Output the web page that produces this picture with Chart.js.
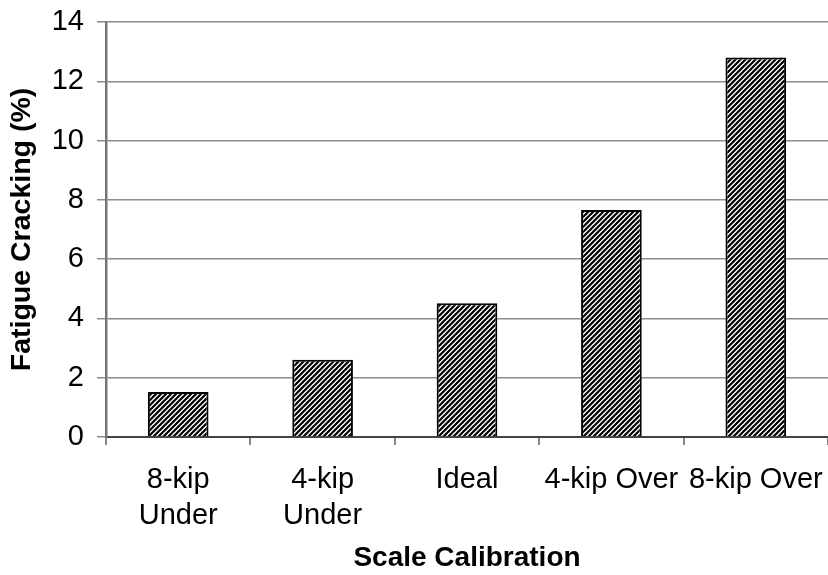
<!DOCTYPE html>
<html>
<head>
<meta charset="utf-8">
<script src="https://cdn.jsdelivr.net/npm/chart.js@4/dist/chart.umd.min.js"></script>
<style>
html,body{margin:0;padding:0;background:#fff;}
#wrap{width:828px;height:575px;position:relative;}
</style>
</head>
<body>
<div id="wrap"><canvas id="c" width="828" height="575"></canvas></div>
<script>
const categories = [["8-kip","Under"], ["4-kip","Under"], "Ideal", "4-kip Over", "8-kip Over"];
const fatigueCracking = [1.52, 2.61, 4.51, 7.66, 12.8];
const yTicks = [0, 2, 4, 6, 8, 10, 12, 14];
const xTitle = "Scale Calibration";
const yTitle = "Fatigue Cracking (%)";

function hatch() {
  const s = 5;
  const c = document.createElement('canvas');
  c.width = s; c.height = s;
  const g = c.getContext('2d');
  g.fillStyle = '#fff';
  g.fillRect(0, 0, s, s);
  g.strokeStyle = '#000';
  g.lineWidth = 2.2;
  g.beginPath();
  g.moveTo(-1, s + 1); g.lineTo(s + 1, -1);
  g.moveTo(-1, 1); g.lineTo(1, -1);
  g.moveTo(s - 1, s + 1); g.lineTo(s + 1, s - 1);
  g.stroke();
  return g.createPattern(c, 'repeat');
}

const FONT = "'Liberation Sans', Arial, sans-serif";

new Chart(document.getElementById('c'), {
  type: 'bar',
  data: {
    labels: categories,
    datasets: [{
      data: fatigueCracking,
      backgroundColor: hatch(),
      borderColor: '#000',
      borderWidth: 2,
      barPercentage: 1,
      categoryPercentage: 0.42
    }]
  },
  options: {
    responsive: false,
    animation: false,
    devicePixelRatio: 1,
    layout: { padding: { top: 22, right: 0, left: 0, bottom: 0 } },
    plugins: { legend: { display: false }, tooltip: { enabled: false } },
    scales: {
      x: {
        afterFit: s => { s.height = 138; s.paddingLeft = 0; s.paddingRight = 0; },
        grid: { drawOnChartArea: false, drawTicks: true, tickLength: 8, color: '#888', lineWidth: 2, offset: true },
        border: { color: '#444', width: 2 },
        ticks: { color: '#000', font: { family: FONT, size: 29, lineHeight: 1.24 }, padding: 17, maxRotation: 0, autoSkip: false },
        title: { display: true, text: xTitle, color: '#000', font: { family: FONT, size: 28, weight: 'bold', lineHeight: 1.2 }, padding: { top: 0, bottom: 0 } }
      },
      y: {
        min: 0, max: 14,
        afterFit: s => { s.width = 106; s.paddingTop = 0; s.paddingBottom = 0; },
        afterBuildTicks: s => { s.ticks = yTicks.map(v => ({ value: v })); },
        grid: { color: '#8c8c8c', lineWidth: 1.5, tickLength: 9 },
        border: { color: '#777', width: 2.5 },
        ticks: { color: '#000', font: { family: FONT, size: 29 }, padding: 13 },
        title: { display: true, text: yTitle, color: '#000', font: { family: FONT, size: 28.5, weight: 'bold', lineHeight: 1.2 }, padding: { top: 5, bottom: 0 } }
      }
    }
  }
});
</script>
</body>
</html>
